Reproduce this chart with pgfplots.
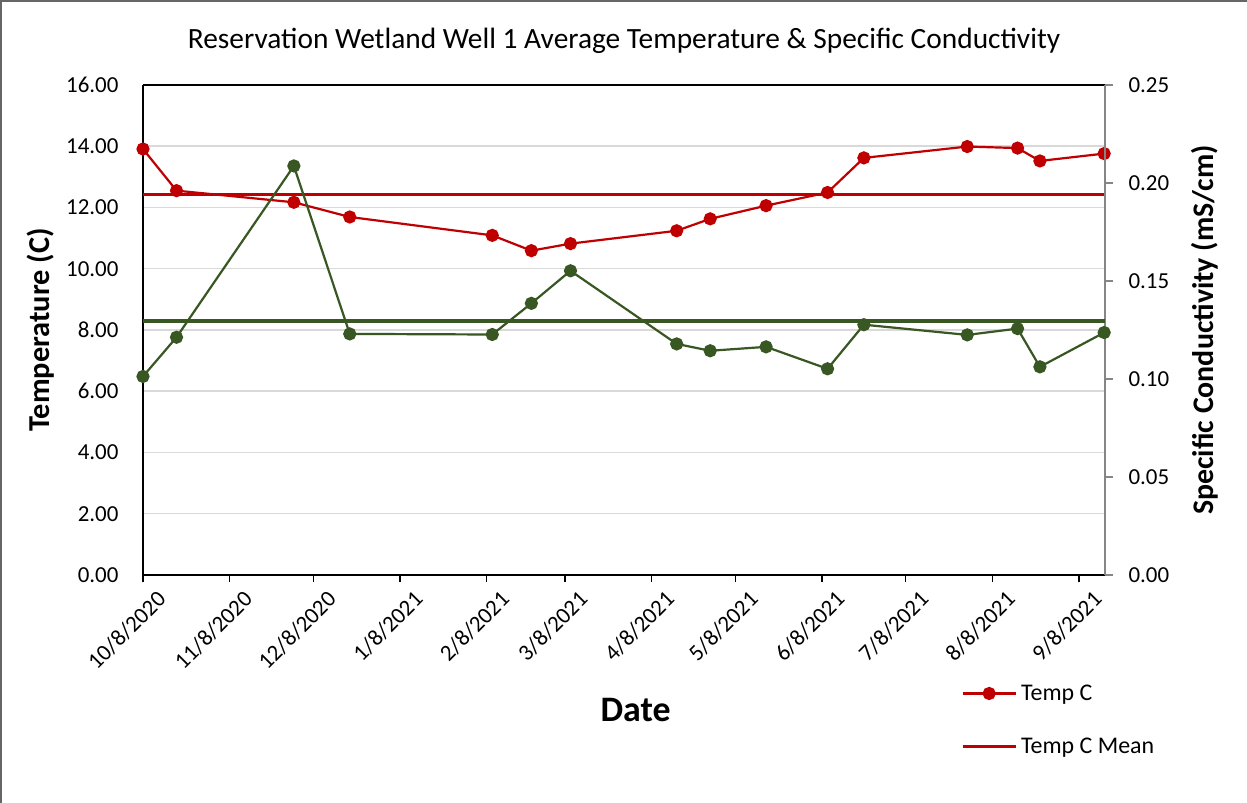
\documentclass[border=0pt]{standalone}
\usepackage{pgfplots}
\pgfplotsset{compat=1.18}
\usepackage{fontspec}
\setmainfont{Carlito}
\definecolor{tred}{HTML}{C00000}
\definecolor{cgreen}{HTML}{385723}
\definecolor{gridgray}{HTML}{D9D9D9}
\definecolor{raxis}{HTML}{868686}

\pgfplotstableread{
day temp
0   13.91
12  12.55
54  12.17
74  11.69
125 11.09
139 10.59
153 10.82
191 11.24
203 11.63
223 12.06
245 12.49
258 13.62
295 13.99
313 13.94
321 13.52
344 13.76
}\temptable

\pgfplotstableread{
day cond
0   0.1013
12  0.1213
54  0.2087
74  0.1230
125 0.1227
139 0.1386
153 0.1552
191 0.1179
203 0.1144
223 0.1164
245 0.1052
258 0.1277
295 0.1225
313 0.1257
321 0.1062
344 0.1237
}\condtable

\begin{document}
\begin{tikzpicture}
\useasboundingbox (0bp,0bp) rectangle (1247bp,803bp);
\fill[white] (0bp,0bp) rectangle (1247bp,803bp);
\draw[black!60, line width=2bp] (1bp,0bp) -- (1bp,802bp) -- (1247bp,802bp);
\node[font=\fontsize{29.5}{34}\selectfont, anchor=base] at (624bp,754bp) {Reservation Wetland Well 1 Average Temperature \& Specific Conductivity};

\begin{axis}[
  at={(143bp,228bp)}, anchor=south west,
  scale only axis, width=962bp, height=490bp,
  xmin=0, xmax=344.3, ymin=0, ymax=16,
  axis x line*=bottom, axis y line*=left,
  axis line style={black, line width=1.5bp, -},
  xtick={0,31,61,92,123,151,182,212,243,273,304,335},
  xticklabels={10/8/2020,11/8/2020,12/8/2020,1/8/2021,2/8/2021,3/8/2021,4/8/2021,5/8/2021,6/8/2021,7/8/2021,8/8/2021,9/8/2021},
  xtick style={black, line width=1.2bp},
  tick align=outside, major tick length=7bp,
  xticklabel style={rotate=45, anchor=north east, font=\fontsize{23}{26}\selectfont, inner sep=0pt, xshift=4bp, yshift=-14bp},
  ytick={0,2,...,16},
  ytick style={draw=none},
  yticklabel style={font=\fontsize{23}{26}\selectfont, /pgf/number format/.cd, fixed, fixed zerofill, precision=2, assume math mode=true},
  yticklabel shift=14bp,
  ymajorgrids, grid style={gridgray, line width=1.5bp},
  ylabel={\bfseries Temperature (C)},
  ylabel style={font=\fontsize{30.5}{34}\selectfont, at={(axis description cs:-0.106,0.5)}, anchor=center},
  xlabel={\bfseries Date},
  xlabel style={font=\fontsize{36}{40}\selectfont, at={(axis description cs:0.512,0)}, anchor=center, yshift=-135bp},
  legend style={draw=none, fill=none, at={(0.8503,-0.2959)}, anchor=west, font=\fontsize{24}{27}\selectfont, inner sep=0pt, row sep=32bp, column sep=2bp, cells={anchor=west}},
  legend image code/.code={\draw[#1, mark repeat=2, mark phase=2] plot coordinates {(0bp,0bp)(26.5bp,0bp)(53bp,0bp)};},
  clip=false,
]
\addplot[tred, line width=2.2bp, mark=*, mark size=5.5bp, mark options={solid, fill=tred, draw=tred}] table[x=day, y=temp] {\temptable};
\addlegendentry{Temp C}
\addplot[tred, line width=3bp, mark=none] coordinates {(0,12.44) (344.3,12.44)};
\addlegendentry{Temp C Mean}
\draw[black, line width=1.2bp] (rel axis cs:0,1) -- (rel axis cs:1,1);
\end{axis}

\begin{axis}[
  at={(143bp,228bp)}, anchor=south west,
  scale only axis, width=962bp, height=490bp,
  xmin=0, xmax=344.3, ymin=0, ymax=0.25,
  axis x line=none, axis y line*=right,
  axis line style={raxis, line width=1.5bp, -},
  ytick={0,0.05,...,0.25},
  ytick style={raxis, line width=1.2bp},
  tick align=outside, major tick length=8bp,
  yticklabel style={font=\fontsize{23}{26}\selectfont, /pgf/number format/.cd, fixed, fixed zerofill, precision=2, assume math mode=true},
  yticklabel shift=12bp,
  ylabel={\bfseries Specific Conductivity (mS/cm)},
  ylabel style={font=\fontsize{30}{34}\selectfont, at={(axis description cs:1.104,0.5)}, anchor=center},
  clip=false,
]
\addplot[cgreen, line width=2.2bp, mark=*, mark size=5.5bp, mark options={solid, fill=cgreen, draw=cgreen}] table[x=day, y=cond] {\condtable};
\addplot[cgreen, line width=3.5bp, mark=none] coordinates {(0,0.1296) (344.3,0.1296)};
\end{axis}
\end{tikzpicture}
\end{document}
